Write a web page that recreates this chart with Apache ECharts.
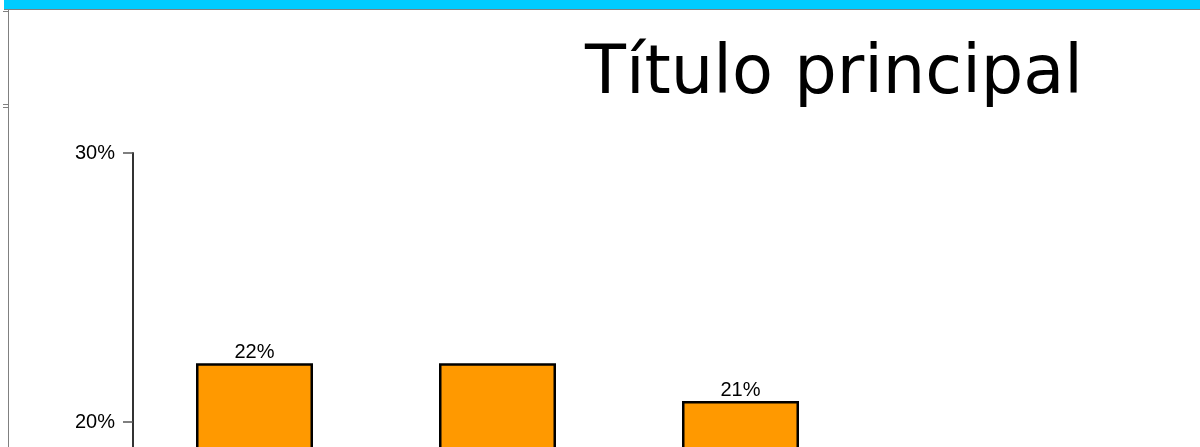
<!DOCTYPE html>
<html>
<head>
<meta charset="utf-8">
<script src="https://cdn.jsdelivr.net/npm/echarts@6/dist/echarts.min.js"></script>
<style>
html,body{margin:0;padding:0;background:#fff;overflow:hidden;}
#chart{width:1200px;height:447px;}
</style>
</head>
<body>
<div id="chart"></div>
<script>
const titleText = 'Título principal';
const categories = ['Categoría 1', 'Categoría 2', 'Categoría 3'];
const values = [22.18, 22.18, 20.78];
const showLabel = [true, false, true];
const yTicks = [0, 10, 20, 30];

const chart = echarts.init(document.getElementById('chart'));
chart.setOption({
  animation: false,
  backgroundColor: '#ffffff',
  title: {
    text: titleText,
    left: 585,
    top: 42,
    padding: 0,
    textStyle: { fontFamily: 'DejaVu Sans', fontSize: 67, fontWeight: 'normal', color: '#000' }
  },
  graphic: [
    { type: 'rect', shape: { x: 4, y: 0, width: 1196, height: 9 }, style: { fill: '#00CCFF' }, silent: true },
    { type: 'line', shape: { x1: 4, y1: 9.5, x2: 1200, y2: 9.5 }, style: { stroke: '#808080', lineWidth: 1 }, silent: true },
    { type: 'line', shape: { x1: 8.5, y1: 9, x2: 8.5, y2: 447 }, style: { stroke: '#808080', lineWidth: 1 }, silent: true },
    { type: 'line', shape: { x1: 3, y1: 11.5, x2: 8, y2: 11.5 }, style: { stroke: '#808080', lineWidth: 1 }, silent: true },
    { type: 'line', shape: { x1: 3, y1: 104.5, x2: 8, y2: 104.5 }, style: { stroke: '#808080', lineWidth: 1 }, silent: true },
    { type: 'line', shape: { x1: 3, y1: 107.5, x2: 8, y2: 107.5 }, style: { stroke: '#808080', lineWidth: 1 }, silent: true }
  ],
  grid: { left: 133, top: 153, width: 729, height: 807, containLabel: false, outerBoundsMode: 'none' },
  xAxis: {
    type: 'category',
    data: categories,
    axisLine: { lineStyle: { color: '#333' } },
    axisTick: { show: false },
    axisLabel: { color: '#000', fontSize: 20, fontFamily: 'Liberation Sans' }
  },
  yAxis: {
    type: 'value',
    min: yTicks[0],
    max: yTicks[yTicks.length - 1],
    interval: 10,
    axisLine: { show: true, lineStyle: { color: '#333', width: 2 } },
    axisTick: { show: true, length: 10, lineStyle: { color: '#555', width: 1.5 } },
    splitLine: { show: false },
    axisLabel: { margin: 18, color: '#000', fontSize: 20, fontFamily: 'Liberation Sans', formatter: v => v + '%' }
  },
  series: [{
    type: 'bar',
    barWidth: 117,
    data: values.map((v, i) => ({ value: v, label: { show: showLabel[i] } })),
    itemStyle: { color: '#FF9900', borderColor: '#000', borderWidth: 2.5 },
    label: {
      position: 'top',
      distance: 1,
      color: '#000',
      fontSize: 20,
      fontFamily: 'Liberation Sans',
      formatter: p => Math.round(p.value) + '%'
    }
  }]
});
</script>
</body>
</html>
